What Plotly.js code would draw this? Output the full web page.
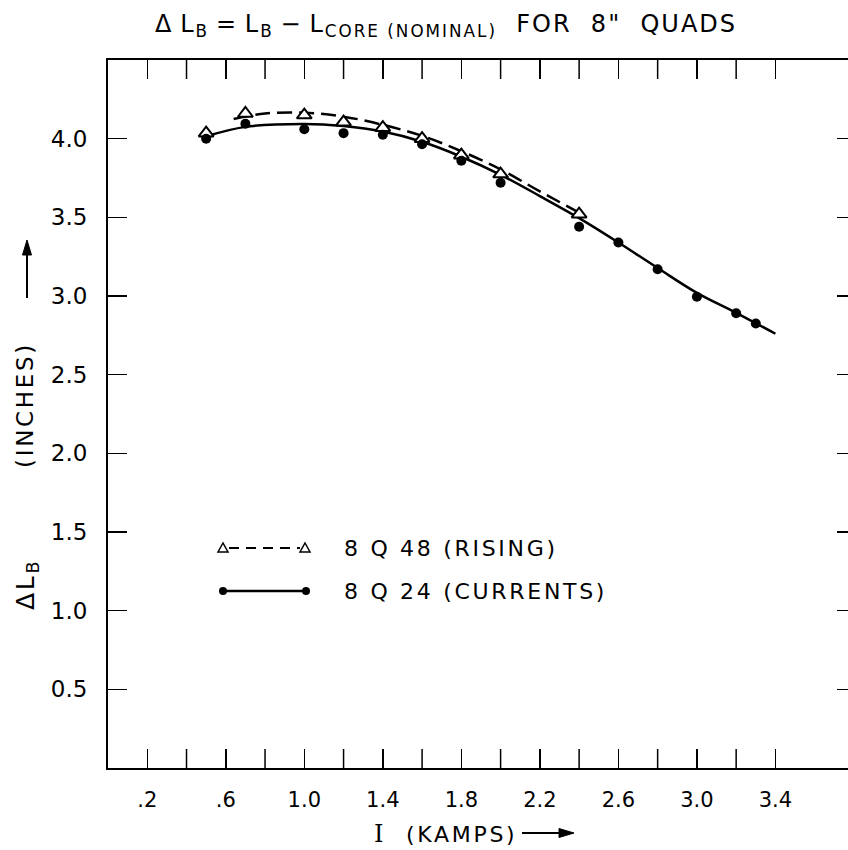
<!DOCTYPE html>
<html><head><meta charset="utf-8">
<script src="https://cdn.plot.ly/plotly-3.0.1.min.js"></script>
<style>
html,body{margin:0;padding:0;overflow:hidden;background:#fff;}
#chart{width:860px;height:850px;}
.gtitle{letter-spacing:2px;}
.annotation-text{letter-spacing:2.7px;}
</style></head><body><div id="chart"></div>
<script>
// Measured points
const rising_I  = [0.5, 0.7, 1.0, 1.2, 1.4, 1.6, 1.8, 2.0, 2.4];
const rising_dL = [4.035, 4.16, 4.15, 4.105, 4.07, 4.0, 3.895, 3.775, 3.52];
const currents_I  = [0.5, 0.7, 1.0, 1.2, 1.4, 1.6, 1.8, 2.0, 2.4, 2.6, 2.8, 3.0, 3.2, 3.3];
const currents_dL = [4.0, 4.095, 4.06, 4.035, 4.025, 3.965, 3.86, 3.72, 3.44, 3.34, 3.17, 2.995, 2.89, 2.825];
// Hand-drawn fitted curves
const risingCurve_I  = [0.64, 0.8, 1.0, 1.2, 1.4, 1.6, 1.8, 2.0, 2.2, 2.4];
const risingCurve_dL = [4.125, 4.16, 4.165, 4.14, 4.088, 4.018, 3.92, 3.805, 3.665, 3.53];
const currentsCurve_I  = [0.5, 0.7, 1.0, 1.2, 1.4, 1.6, 1.8, 2.0, 2.2, 2.4, 2.6, 2.8, 3.0, 3.2, 3.4];
const currentsCurve_dL = [4.015, 4.075, 4.093, 4.08, 4.045, 3.98, 3.885, 3.77, 3.635, 3.495, 3.34, 3.178, 3.02, 2.893, 2.76];
// Ticks
const xTickVals = [0.2, 0.6, 1.0, 1.4, 1.8, 2.2, 2.6, 3.0, 3.4];
const xTickText = ['.2', '.6', '1.0', '1.4', '1.8', '2.2', '2.6', '3.0', '3.4'];
const xMinorVals = [0.4, 0.8, 1.2, 1.6, 2.0, 2.4, 2.8, 3.2];
const yTickVals = [0.5, 1.0, 1.5, 2.0, 2.5, 3.0, 3.5, 4.0];
const yTickText = ['0.5', '1.0', '1.5', '2.0', '2.5', '3.0', '3.5', '4.0'];
const legendLabels = ['8 Q 48 (RISING)', '8 Q 24 (CURRENTS)'];

const FONT = 'DejaVu Sans';
const W = 860, H = 850, ML = 108, MR = 4, MT = 60, MB = 82;
const PW = W - ML - MR, PH = H - MT - MB;
const PX = x => (x - ML) / PW;
const PY = y => (H - MB - y) / PH;
const X_MAX = PW / 196.3;
const TICKLEN = 19;

const traces = [
  {x: risingCurve_I, y: risingCurve_dL, mode: 'lines', line: {color: '#000', width: 2.5, dash: '15px,7px', shape: 'spline', smoothing: 1}, hoverinfo: 'skip', showlegend: false},
  {x: currentsCurve_I, y: currentsCurve_dL, mode: 'lines', line: {color: '#000', width: 2.5, shape: 'spline', smoothing: 1}, hoverinfo: 'skip', showlegend: false},
  {x: rising_I, y: rising_dL, mode: 'markers', name: legendLabels[0], marker: {symbol: 'triangle-up', size: 13, color: '#fff', line: {color: '#000', width: 2}}, showlegend: false},
  {x: currents_I, y: currents_dL, mode: 'markers', name: legendLabels[1], marker: {symbol: 'circle', size: 10, color: '#000'}, showlegend: false}
];

function P(pts) {
  return pts.map((p, i) => (i ? 'L ' : 'M ') + PX(p[0]) + ' ' + PY(p[1])).join(' ') + ' Z';
}
const tri = (cx, cy) => P([[cx - 5, cy + 4], [cx + 5, cy + 4], [cx, cy - 5]]);
const r1 = 548, r2 = 591;
const shapes = [
  // legend keys
  {type: 'line', xref: 'paper', yref: 'paper', x0: PX(229), x1: PX(300), y0: PY(r1), y1: PY(r1), line: {color: '#000', width: 2, dash: '10px,7px'}},
  {type: 'path', xref: 'paper', yref: 'paper', path: tri(223, r1), line: {color: '#000', width: 1.5}, fillcolor: '#fff'},
  {type: 'path', xref: 'paper', yref: 'paper', path: tri(305, r1), line: {color: '#000', width: 1.5}, fillcolor: '#fff'},
  {type: 'line', xref: 'paper', yref: 'paper', x0: PX(223), x1: PX(306), y0: PY(r2), y1: PY(r2), line: {color: '#000', width: 2.5}},
  {type: 'circle', xref: 'paper', yref: 'paper', x0: PX(219), x1: PX(227), y0: PY(r2 + 4), y1: PY(r2 - 4), line: {color: '#000', width: 0}, fillcolor: '#000'},
  {type: 'circle', xref: 'paper', yref: 'paper', x0: PX(302), x1: PX(310), y0: PY(r2 + 4), y1: PY(r2 - 4), line: {color: '#000', width: 0}, fillcolor: '#000'},
  // axis-title arrows
  {type: 'line', xref: 'paper', yref: 'paper', x0: PX(522), x1: PX(562), y0: PY(833), y1: PY(833), line: {color: '#000', width: 2}},
  {type: 'path', xref: 'paper', yref: 'paper', path: P([[574, 833], [559, 828.5], [559, 837.5]]), line: {color: '#000', width: 1}, fillcolor: '#000'},
  {type: 'line', xref: 'paper', yref: 'paper', x0: PX(27), x1: PX(27), y0: PY(298), y1: PY(252), line: {color: '#000', width: 2}},
  {type: 'path', xref: 'paper', yref: 'paper', path: P([[27, 240], [22.5, 255], [31.5, 255]]), line: {color: '#000', width: 1}, fillcolor: '#000'}
];
// unlabeled intermediate x ticks (bottom and top, pointing inward)
xMinorVals.forEach(v => {
  shapes.push({type: 'line', xref: 'x', yref: 'paper', x0: v, x1: v, y0: 0, y1: TICKLEN / PH, line: {color: '#000', width: 1.5}, layer: 'below'});
  shapes.push({type: 'line', xref: 'x', yref: 'paper', x0: v, x1: v, y0: 1 - TICKLEN / PH, y1: 1, line: {color: '#000', width: 1.5}, layer: 'below'});
});

const tfont = s => ({family: FONT, size: s, color: '#000'});
const annotations = [
  {xref: 'paper', yref: 'paper', x: PX(342), y: PY(r1), xanchor: 'left', yanchor: 'middle', text: legendLabels[0], showarrow: false, font: tfont(22)},
  {xref: 'paper', yref: 'paper', x: PX(342), y: PY(r2), xanchor: 'left', yanchor: 'middle', text: legendLabels[1], showarrow: false, font: tfont(22)},
  {xref: 'paper', yref: 'paper', x: PX(380), y: PY(834), xanchor: 'center', yanchor: 'middle', text: 'I', showarrow: false, font: {family: 'DejaVu Serif', size: 24, color: '#000'}},
  {xref: 'paper', yref: 'paper', x: PX(404), y: PY(834), xanchor: 'left', yanchor: 'middle', text: '(KAMPS)', showarrow: false, font: tfont(22)},
  {xref: 'paper', yref: 'paper', x: PX(25), y: PY(405), xanchor: 'center', yanchor: 'middle', textangle: -90, text: '(INCHES)', showarrow: false, font: tfont(23)},
  {xref: 'paper', yref: 'paper', x: PX(27), y: PY(585), xanchor: 'center', yanchor: 'middle', textangle: -90, text: 'ΔL<sub>B</sub>', showarrow: false, font: tfont(25)}
];

const axisCommon = {showline: true, linecolor: '#000', linewidth: 2, mirror: 'ticks', ticks: 'inside', ticklen: TICKLEN, tickwidth: 1.5, tickcolor: '#000', showgrid: false, zeroline: false, fixedrange: true};

const ts = '\u2009';
const titleText = 'Δ' + ts + 'L<sub>B</sub>' + ts + '=' + ts + 'L<sub>B</sub>' + ts + '−' + ts + 'L<sub>CORE\u00a0(NOMINAL)</sub>\u00a0\u00a0FOR\u00a0\u00a08"\u00a0\u00a0QUADS';

const layout = {
  width: W, height: H,
  margin: {l: ML, r: MR, t: MT, b: MB},
  paper_bgcolor: '#fff', plot_bgcolor: '#fff',
  showlegend: false,
  title: {text: titleText, font: tfont(24), xref: 'container', x: 155 / W, xanchor: 'left', yref: 'container', y: 1 - 24 / H, yanchor: 'middle'},
  xaxis: Object.assign({}, axisCommon, {range: [0, X_MAX], tickmode: 'array', tickvals: xTickVals, ticktext: xTickText, ticklabelstandoff: 12, tickfont: tfont(21)}),
  yaxis: Object.assign({}, axisCommon, {range: [0, 4.5], tickmode: 'array', tickvals: yTickVals, ticktext: yTickText, ticklabelstandoff: 14, tickfont: tfont(23)}),
  shapes: shapes,
  annotations: annotations
};

Plotly.newPlot('chart', traces, layout, {displayModeBar: false, staticPlot: true});
</script></body></html>
